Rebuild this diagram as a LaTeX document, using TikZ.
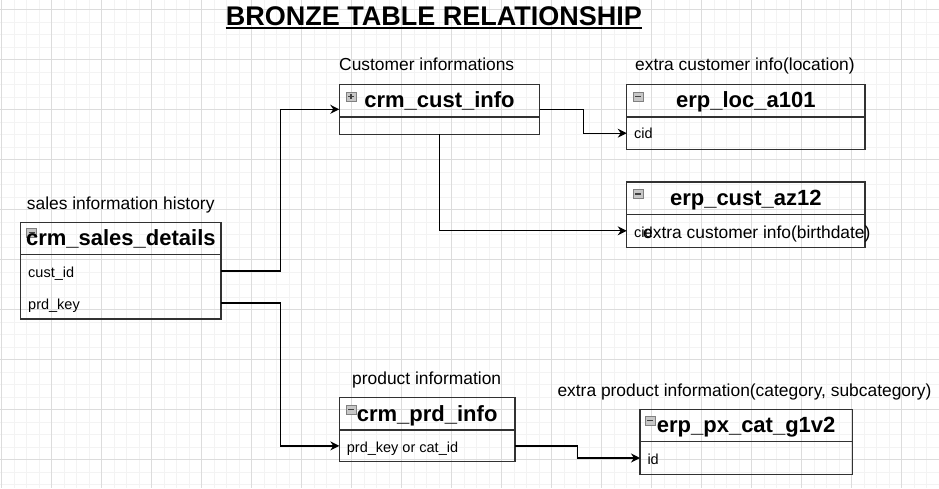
\documentclass[tikz,border=0pt]{standalone}
\usepackage{fontspec}
\setmainfont{Liberation Sans}
\usetikzlibrary{calc,arrows.meta}
\definecolor{gridminor}{RGB}{243,243,243}
\definecolor{gridmajor}{RGB}{220,220,220}
\definecolor{boxline}{RGB}{50,50,50}
\begin{document}
\begin{tikzpicture}[x=1pt,y=-1pt,
  tbl/.style={draw=boxline, line width=1.3pt, inner sep=0pt, outer sep=0pt, anchor=north west},
  rowbox/.style={inner sep=0pt, outer sep=0pt, anchor=north west},
  sepline/.style={draw=boxline, line width=1.3pt},
  ttl/.style={font=\fontsize{22}{26}\selectfont\bfseries, inner sep=0pt, anchor=base},
  fld/.style={font=\fontsize{14.5}{17}\selectfont, inner sep=0pt, anchor=base west},
  lbl/.style={font=\fontsize{17.4}{20}\selectfont, inner sep=0pt, anchor=base west},
  conn/.style={draw=black, line width=1.3pt, -{Stealth[length=9pt,width=9pt,inset=3pt]}},
  minusicon/.pic={
    \draw[fill=black!22, draw=black!50, line width=0.6pt] (0,0) rectangle (10,9);
    \draw[black!75, line width=1.2pt] (2,4.5) -- (8,4.5);
  },
  plusicon/.pic={
    \draw[fill=black!22, draw=black!50, line width=0.6pt] (0,0) rectangle (10,9);
    \draw[black!75, line width=1.2pt] (2,4.5) -- (8,4.5) (5,1.8) -- (5,7.2);
  }]
% background and grid
\fill[white] (0,0) rectangle (939,488);
\useasboundingbox (0,0) rectangle (939,488);
\foreach \i in {0,...,75} \draw[gridminor, line width=1pt] ({1.7+12.5*\i},0) -- ({1.7+12.5*\i},488);
\foreach \j in {0,...,38} \draw[gridminor, line width=1pt] (0,{9.5+12.5*\j}) -- (939,{9.5+12.5*\j});
\foreach \i in {0,...,18} \draw[gridmajor, line width=1pt] ({1.7+50*\i},0) -- ({1.7+50*\i},488);
\foreach \j in {0,...,9} \draw[gridmajor, line width=1pt] (0,{9.5+50*\j}) -- (939,{9.5+50*\j});

% title
\node[font=\fontsize{27}{32}\selectfont\bfseries, inner sep=0pt, anchor=base] (title) at (433.8,25) {BRONZE TABLE RELATIONSHIP};
\draw[line width=2pt] ([yshift=-2.8pt]title.base west) -- ([yshift=-2.8pt]title.base east);

% crm_sales_details
\node[tbl, minimum width=200.3pt, minimum height=96.7pt] (sd) at (20.7,222.3) {};
\draw[sepline] (20.7,254.7) -- (221,254.7);
\node[rowbox, minimum width=200.3pt, minimum height=32.3pt] (sdcust) at (20.7,254.7) {};
\node[rowbox, minimum width=200.3pt, minimum height=32pt] (sdprd) at (20.7,287) {};
\pic at (26.5,228) {minusicon};
\node[ttl] (sdt) at (sd.north |- 0,245) {crm\_sales\_details};
\node[fld] (sdf1) at (28,277) {cust\_id};
\node[fld] (sdf2) at (28,309) {prd\_key};
\node[lbl] (sdl) at (26.7,209) {sales information history};

% crm_cust_info
\node[tbl, minimum width=200.4pt, minimum height=50pt] (cust) at (339.3,84.3) {};
\draw[sepline] (339.3,117) -- (539.7,117);
\pic at (346,92) {plusicon};
\node[ttl] (custt) at (cust.north |- 0,107.3) {crm\_cust\_info};
\node[lbl] (custl) at (339,70.7) {Customer informations};

% erp_loc_a101
\node[tbl, minimum width=238.3pt, minimum height=65pt] (loc) at (626.7,84.3) {};
\draw[sepline] (626.7,117) -- (865,117);
\node[rowbox, minimum width=238.3pt, minimum height=32.3pt] (loccid) at (626.7,117) {};
\pic at (633.3,92) {minusicon};
\node[ttl] (loct) at (loc.north |- 0,107.3) {erp\_loc\_a101};
\node[fld] (locf) at (634,138.7) {cid};
\node[lbl] (locl) at (635,70.7) {extra customer info(location)};

% erp_cust_az12
\node[tbl, minimum width=238.3pt, minimum height=65.3pt] (az) at (626.7,182) {};
\draw[sepline] (626.7,214.3) -- (865,214.3);
\node[rowbox, minimum width=238.3pt, minimum height=33pt] (azcid) at (626.7,214.3) {};
\pic at (633.3,189.5) {minusicon};
\node[ttl] (azt) at (az.north |- 0,205.3) {erp\_cust\_az12};
\node[fld] (azf) at (634,237.3) {cid};

% crm_prd_info
\node[tbl, minimum width=175.7pt, minimum height=64.4pt] (prd) at (339.3,397.3) {};
\draw[sepline] (339.3,430) -- (515,430);
\node[rowbox, minimum width=175.7pt, minimum height=31.7pt] (prdrow) at (339.3,430) {};
\pic at (346,405) {minusicon};
\node[ttl] (prdt) at (prd.north |- 0,421) {crm\_prd\_info};
\node[fld] (prdf) at (346.7,452.3) {prd\_key or cat\_id};
\node[lbl] (prdl) at (352,384) {product information};

% erp_px_cat_g1v2
\node[tbl, minimum width=212.3pt, minimum height=64.6pt] (px) at (640,409.7) {};
\draw[sepline] (640,441.7) -- (852.3,441.7);
\node[rowbox, minimum width=212.3pt, minimum height=32.6pt] (pxid) at (640,441.7) {};
\pic at (645.3,416) {minusicon};
\node[ttl] (pxt) at (px.north |- 0,432.7) {erp\_px\_cat\_g1v2};
\node[fld] (pxf) at (647.3,464) {id};
\node[lbl] (pxl) at (557.3,396.7) {extra product information(category, subcategory)};

% connectors
\draw[conn] (sdcust.east) -| ($(sdcust.east)!.5!(cust.west)$) |- (cust.west);
\draw[conn] (sdprd.east) -| ($(sdprd.east)!.5!(prdrow.west)$) |- (prdrow.west);
\draw[conn] (cust.east) -| ($(cust.east)!.5!(loccid.west)$) |- (loccid.west);
\draw[conn] (cust.south) |- (azcid.west);
\draw[conn] (prdrow.east) -| ($(prdrow.east)!.5!(pxid.west)$) |- (pxid.west);

% overlaid label
\node[lbl] (azl) at (643,238.3) {extra customer info(birthdate)};
\end{tikzpicture}
\end{document}
